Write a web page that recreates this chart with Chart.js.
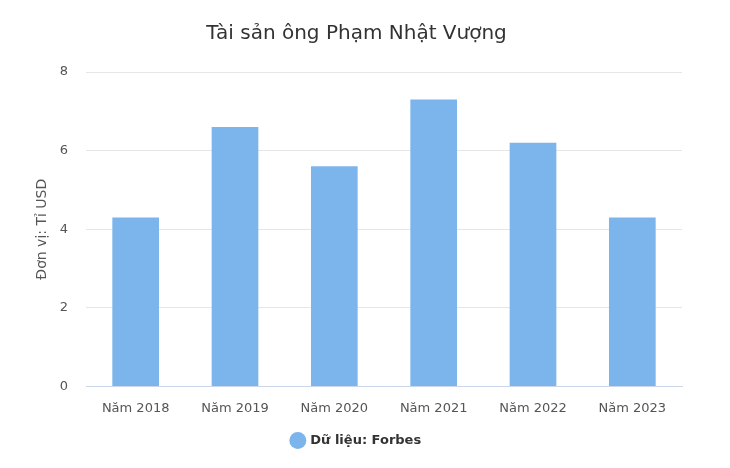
<!DOCTYPE html>
<html>
<head>
<meta charset="utf-8">
<script src="https://cdn.jsdelivr.net/npm/chart.js@4"></script>
<style>
  html, body { margin: 0; padding: 0; background: #fff; }
  #wrap { width: 730px; height: 468px; }
</style>
</head>
<body>
<div id="wrap"><canvas id="chart"></canvas></div>
<script>
const years = ['Năm 2018', 'Năm 2019', 'Năm 2020', 'Năm 2021', 'Năm 2022', 'Năm 2023'];
const wealth = [4.3, 6.6, 5.6, 7.3, 6.2, 4.3];
const yTicks = [0, 2, 4, 6, 8];

new Chart(document.getElementById('chart'), {
    type: 'bar',
    data: { labels: years, datasets: [
        { label: 'Dữ liệu: Forbes', data: wealth, backgroundColor: '#7cb5ec',
          barPercentage: 0.47, categoryPercentage: 1 }
    ]},
    options: {
        responsive: true, maintainAspectRatio: false, animation: false,
        layout: { padding: { left: 31, right: 48, top: 6, bottom: 11 } },
        scales: {
            x: {
                grid: { display: false },
                border: { color: '#ccd6eb' },
                ticks: { color: '#555', font: { family: 'DejaVu Sans', size: 13 }, padding: 6 }
            },
            y: {
                min: 0, max: 8,
                afterBuildTicks: s => { s.ticks = yTicks.map(v => ({ value: v })); },
                afterFit: s => { s.width = 55; },
                grid: { color: '#e6e6e6', drawTicks: false },
                border: { display: false },
                ticks: { color: '#555', font: { family: 'DejaVu Sans', size: 13 }, padding: 18 },
                title: { display: true, text: 'Đơn vị: Tỉ USD', color: '#555',
                         font: { family: 'DejaVu Sans', size: 14 }, padding: { top: 3, bottom: 0 } }
            }
        },
        plugins: {
            title: { display: true, text: 'Tài sản ông Phạm Nhật Vượng', color: '#333',
                     font: { family: 'DejaVu Sans', size: 20, weight: 'normal' }, padding: { top: 16, bottom: 26 } },
            legend: { position: 'bottom',
                      labels: { usePointStyle: true, pointStyle: 'circle', boxWidth: 12, boxHeight: 12,
                                color: '#333', padding: 12,
                                font: { family: 'DejaVu Sans', size: 13, weight: 'bold' } } },
            tooltip: { enabled: false }
        }
    }
});
</script>
</body>
</html>
